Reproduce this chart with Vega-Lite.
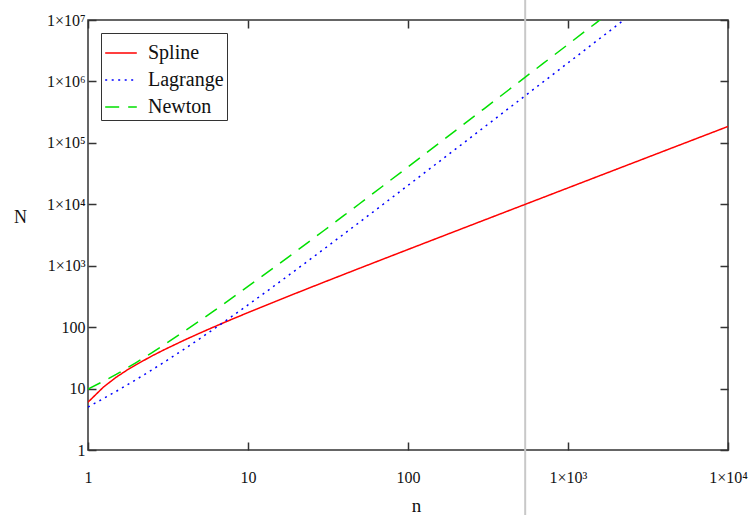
{
  "$schema": "https://vega.github.io/schema/vega-lite/v6.json",
  "width": 640,
  "height": 430,
  "autosize": "none",
  "padding": {"left": 88, "top": 20, "right": 23, "bottom": 65},
  "background": "white",
  "config": {
    "view": {"stroke": "#333333", "strokeWidth": 1.5},
    "font": "Liberation Serif",
    "legend": {"labelFont": "Liberation Serif", "labelFontSize": 20}
  },
  "datasets": {
    "cursor": [{"n": 540, "ylo": 0.085, "yhi": 25000000}],
    "curves": [
      {"n": 1, "method": "Spline", "N": 6},
      {"n": 1.25, "method": "Spline", "N": 10.6},
      {"n": 1.5, "method": "Spline", "N": 15.3},
      {"n": 1.75, "method": "Spline", "N": 19.9},
      {"n": 2, "method": "Spline", "N": 24.5},
      {"n": 2.5, "method": "Spline", "N": 33.8},
      {"n": 3, "method": "Spline", "N": 43},
      {"n": 4, "method": "Spline", "N": 61.5},
      {"n": 5, "method": "Spline", "N": 80},
      {"n": 6, "method": "Spline", "N": 98.5},
      {"n": 7, "method": "Spline", "N": 117},
      {"n": 8, "method": "Spline", "N": 135.5},
      {"n": 10, "method": "Spline", "N": 172.5},
      {"n": 12, "method": "Spline", "N": 209.5},
      {"n": 15, "method": "Spline", "N": 265},
      {"n": 20, "method": "Spline", "N": 357.5},
      {"n": 25, "method": "Spline", "N": 450},
      {"n": 30, "method": "Spline", "N": 542.5},
      {"n": 40, "method": "Spline", "N": 727.5},
      {"n": 50, "method": "Spline", "N": 912.5},
      {"n": 70, "method": "Spline", "N": 1282.5},
      {"n": 100, "method": "Spline", "N": 1837.5},
      {"n": 150, "method": "Spline", "N": 2762.5},
      {"n": 200, "method": "Spline", "N": 3687.5},
      {"n": 300, "method": "Spline", "N": 5537.5},
      {"n": 500, "method": "Spline", "N": 9237.5},
      {"n": 700, "method": "Spline", "N": 12937.5},
      {"n": 1000, "method": "Spline", "N": 18487.5},
      {"n": 1500, "method": "Spline", "N": 27737.5},
      {"n": 2000, "method": "Spline", "N": 36987.5},
      {"n": 3000, "method": "Spline", "N": 55487.5},
      {"n": 5000, "method": "Spline", "N": 92487.5},
      {"n": 7000, "method": "Spline", "N": 129487.5},
      {"n": 10000, "method": "Spline", "N": 184987.5},
      {"n": 1, "method": "Lagrange", "N": 5},
      {"n": 1.25, "method": "Lagrange", "N": 6.9},
      {"n": 1.5, "method": "Lagrange", "N": 9},
      {"n": 1.75, "method": "Lagrange", "N": 11.4},
      {"n": 2, "method": "Lagrange", "N": 14},
      {"n": 2.5, "method": "Lagrange", "N": 20},
      {"n": 3, "method": "Lagrange", "N": 27},
      {"n": 4, "method": "Lagrange", "N": 44},
      {"n": 5, "method": "Lagrange", "N": 65},
      {"n": 6, "method": "Lagrange", "N": 90},
      {"n": 7, "method": "Lagrange", "N": 119},
      {"n": 8, "method": "Lagrange", "N": 152},
      {"n": 10, "method": "Lagrange", "N": 230},
      {"n": 12, "method": "Lagrange", "N": 324},
      {"n": 15, "method": "Lagrange", "N": 495},
      {"n": 20, "method": "Lagrange", "N": 860},
      {"n": 25, "method": "Lagrange", "N": 1325},
      {"n": 30, "method": "Lagrange", "N": 1890},
      {"n": 40, "method": "Lagrange", "N": 3320},
      {"n": 50, "method": "Lagrange", "N": 5150},
      {"n": 70, "method": "Lagrange", "N": 10010},
      {"n": 100, "method": "Lagrange", "N": 20300},
      {"n": 150, "method": "Lagrange", "N": 45450},
      {"n": 200, "method": "Lagrange", "N": 80600},
      {"n": 300, "method": "Lagrange", "N": 180900},
      {"n": 500, "method": "Lagrange", "N": 501500},
      {"n": 700, "method": "Lagrange", "N": 982100},
      {"n": 1000, "method": "Lagrange", "N": 2003000},
      {"n": 1500, "method": "Lagrange", "N": 4504500},
      {"n": 2000, "method": "Lagrange", "N": 8006000},
      {"n": 3000, "method": "Lagrange", "N": 18009000},
      {"n": 1, "method": "Newton", "N": 9.8},
      {"n": 1.25, "method": "Newton", "N": 13.2},
      {"n": 1.5, "method": "Newton", "N": 17},
      {"n": 1.75, "method": "Newton", "N": 21.5},
      {"n": 2, "method": "Newton", "N": 26.5},
      {"n": 2.5, "method": "Newton", "N": 38},
      {"n": 3, "method": "Newton", "N": 52},
      {"n": 4, "method": "Newton", "N": 86},
      {"n": 5, "method": "Newton", "N": 127},
      {"n": 6, "method": "Newton", "N": 177},
      {"n": 7, "method": "Newton", "N": 235},
      {"n": 8, "method": "Newton", "N": 302},
      {"n": 10, "method": "Newton", "N": 460},
      {"n": 12, "method": "Newton", "N": 648},
      {"n": 15, "method": "Newton", "N": 990},
      {"n": 20, "method": "Newton", "N": 1720},
      {"n": 25, "method": "Newton", "N": 2650},
      {"n": 30, "method": "Newton", "N": 3780},
      {"n": 40, "method": "Newton", "N": 6640},
      {"n": 50, "method": "Newton", "N": 10300},
      {"n": 70, "method": "Newton", "N": 20020},
      {"n": 100, "method": "Newton", "N": 40600},
      {"n": 150, "method": "Newton", "N": 90900},
      {"n": 200, "method": "Newton", "N": 161200},
      {"n": 300, "method": "Newton", "N": 361800},
      {"n": 500, "method": "Newton", "N": 1003000},
      {"n": 700, "method": "Newton", "N": 1964200},
      {"n": 1000, "method": "Newton", "N": 4006000},
      {"n": 1500, "method": "Newton", "N": 9009000},
      {"n": 2000, "method": "Newton", "N": 16012000}
    ]
  },
  "resolve": {"axis": {"x": "independent", "y": "independent"}},
  "layer": [
    {
      "data": {"name": "cursor"},
      "mark": {"type": "rule", "color": "#c8c8c8", "strokeWidth": 2, "clip": false},
      "encoding": {
        "x": {
          "field": "n", "type": "quantitative",
          "scale": {"type": "log", "domain": [1, 10000], "nice": false},
          "axis": {
            "orient": "top", "values": [1, 10, 100, 1000, 10000],
            "labels": false, "title": null, "domain": false, "grid": false,
            "tickSize": -8, "tickColor": "#333333", "tickWidth": 1.5
          }
        },
        "y": {
          "field": "ylo", "type": "quantitative",
          "scale": {"type": "log", "domain": [1, 10000000], "nice": false},
          "axis": {
            "orient": "right", "values": [1, 10, 100, 1000, 10000, 100000, 1000000, 10000000],
            "labels": false, "title": null, "domain": false, "grid": false,
            "tickSize": -8, "tickColor": "#333333", "tickWidth": 1.5
          }
        },
        "y2": {"field": "yhi"}
      }
    },
    {
      "data": {"name": "curves"},
      "mark": {"type": "line", "clip": true, "strokeWidth": 1.5},
      "encoding": {
        "x": {
          "field": "n", "type": "quantitative",
          "scale": {"type": "log", "domain": [1, 10000], "nice": false},
          "axis": {
            "orient": "bottom", "values": [1, 10, 100, 1000, 10000],
            "labelExpr": "datum.value < 999 ? format(datum.value, 'd') : '1×10' + ['³','⁴','⁵','⁶','⁷'][round(log(datum.value)/LN10) - 3]",
            "labelFont": "Liberation Serif", "labelFontSize": 16, "labelColor": "#111111",
            "labelPadding": 27, "labelOverlap": false, "labelBound": false, "labelFlush": false,
            "domain": false, "grid": false,
            "tickSize": -8, "tickColor": "#333333", "tickWidth": 1.5,
            "title": "n", "titleFont": "Liberation Serif", "titleFontSize": 19, "titleFontWeight": "normal",
            "titleColor": "#111111", "titleX": 328, "titleY": 61, "titleBaseline": "alphabetic", "titleAlign": "center"
          }
        },
        "y": {
          "field": "N", "type": "quantitative",
          "scale": {"type": "log", "domain": [1, 10000000], "nice": false},
          "axis": {
            "orient": "left", "values": [1, 10, 100, 1000, 10000, 100000, 1000000, 10000000],
            "labelExpr": "datum.value < 999 ? format(datum.value, 'd') : '1×10' + ['³','⁴','⁵','⁶','⁷'][round(log(datum.value)/LN10) - 3]",
            "labelFont": "Liberation Serif", "labelFontSize": 16, "labelColor": "#111111",
            "labelPadding": 11, "labelOverlap": false, "labelBound": false, "labelFlush": false,
            "domain": false, "grid": false,
            "tickSize": -8, "tickColor": "#333333", "tickWidth": 1.5,
            "title": "N", "titleFont": "Liberation Serif", "titleFontSize": 18, "titleFontWeight": "normal",
            "titleColor": "#111111", "titleAngle": 0, "titleX": -68, "titleY": 197,
            "titleBaseline": "middle", "titleAlign": "center"
          }
        },
        "color": {
          "field": "method", "type": "nominal",
          "scale": {"domain": ["Spline", "Lagrange", "Newton"], "range": ["#ff0000", "#0000ff", "#00e000"]},
          "legend": {
            "orient": "none", "legendX": 13, "legendY": 13, "title": null,
            "strokeColor": "#333333", "fillColor": "white", "padding": 3,
            "labelFont": "Liberation Serif", "labelFontSize": 20, "labelColor": "#111111",
            "symbolType": "stroke", "symbolSize": 1000, "symbolStrokeWidth": 1.5,
            "rowPadding": -5, "labelOffset": 10
          }
        },
        "strokeDash": {
          "field": "method", "type": "nominal",
          "scale": {"domain": ["Spline", "Lagrange", "Newton"], "range": [[1, 0], [2, 4.5], [14, 9]]},
          "legend": {
            "orient": "none", "legendX": 13, "legendY": 13, "title": null,
            "strokeColor": "#333333", "fillColor": "white", "padding": 3,
            "labelFont": "Liberation Serif", "labelFontSize": 20, "labelColor": "#111111",
            "symbolType": "stroke", "symbolSize": 1000, "symbolStrokeWidth": 1.5,
            "rowPadding": -5, "labelOffset": 10
          }
        }
      }
    }
  ]
}
